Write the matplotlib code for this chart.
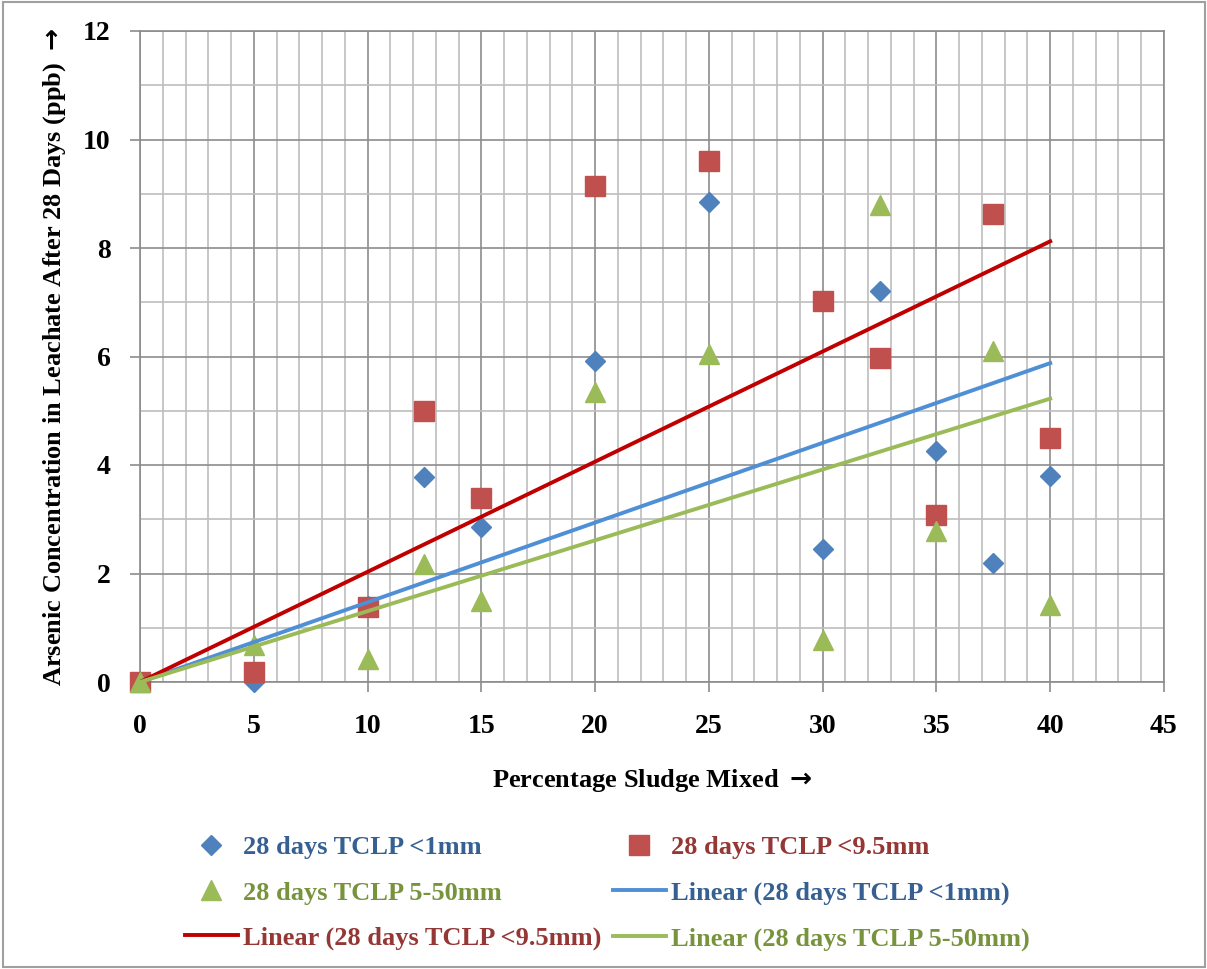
import numpy as np
import matplotlib.pyplot as plt
from matplotlib.ticker import MultipleLocator
from matplotlib.patches import Rectangle

# Datos
pct_lodo = [0, 5, 10, 12.5, 15, 20, 25, 30, 32.5, 35, 37.5, 40]
tclp_1mm = [0, 0, 1.4, 3.77, 2.85, 5.92, 8.85, 2.45, 7.2, 4.25, 2.2, 3.8]
tclp_95mm = [0, 0.18, 1.38, 5.0, 3.4, 9.15, 9.6, 7.03, 5.97, 3.08, 8.63, 4.5]
tclp_550mm = [0, 0.68, 0.43, 2.18, 1.5, 5.35, 6.05, 0.78, 8.8, 2.78, 6.1, 1.42]

labels = ['28 days TCLP <1mm', '28 days TCLP <9.5mm', '28 days TCLP 5-50mm']

plt.rcParams['font.family'] = ['Liberation Serif', 'DejaVu Sans']
plt.rcParams['font.weight'] = 'bold'
plt.rcParams['mathtext.fontset'] = 'dejavusans'

fig = plt.figure(figsize=(12.07, 9.69), dpi=100)
ax = fig.add_axes([140 / 1207, 1 - 682 / 969, 1024 / 1207, 651 / 969])

x = np.array(pct_lodo)

# Puntos (sin recorte en los bordes, como en Excel)
h_b, = ax.plot(x, tclp_1mm, 'D', color='#4F81BD', markersize=10.5, linestyle='none',
               label=labels[0], zorder=3, clip_on=False)
h_r, = ax.plot(x, tclp_95mm, 's', color='#C0504D', markersize=15, linestyle='none',
               label=labels[1], zorder=3, clip_on=False)
h_g, = ax.plot(x, tclp_550mm, '^', color='#9BBB59', markersize=15, linestyle='none',
               label=labels[2], zorder=3, clip_on=False)

# Tendencias lineales (intercepto en cero, como en Excel)
def pendiente(y):
    y = np.array(y)
    return np.sum(x * y) / np.sum(x * x)

xl = np.array([0, 40])
l_b, = ax.plot(xl, pendiente(tclp_1mm) * xl, color='#4F8FD6', lw=2.8, zorder=4,
               label='Linear (28 days TCLP <1mm)')
l_r, = ax.plot(xl, pendiente(tclp_95mm) * xl, color='#C00000', lw=2.8, zorder=4,
               label='Linear (28 days TCLP <9.5mm)')
l_g, = ax.plot(xl, pendiente(tclp_550mm) * xl, color='#9BBB59', lw=2.8, zorder=4,
               label='Linear (28 days TCLP 5-50mm)')

ax.set_xlim(0, 45)
ax.set_ylim(0, 12)
ax.xaxis.set_major_locator(MultipleLocator(5))
ax.xaxis.set_minor_locator(MultipleLocator(1))
ax.yaxis.set_major_locator(MultipleLocator(2))
ax.yaxis.set_minor_locator(MultipleLocator(1))
ax.grid(True, which='major', color='#8C8C8C', lw=1.2, zorder=0)
ax.grid(True, which='minor', color='#BEBEBE', lw=1.2, zorder=0)
ax.set_axisbelow(True)
for s in ax.spines.values():
    s.set_color('#8C8C8C')
    s.set_linewidth(1.2)
ax.tick_params(which='major', direction='out', length=7, color='#8C8C8C', width=1.2,
               labelsize=20)
ax.tick_params(axis='y', which='major', pad=14)
ax.tick_params(axis='x', which='major', pad=16)
ax.tick_params(which='minor', length=0)
for t in ax.get_xticklabels() + ax.get_yticklabels():
    t.set_fontweight('bold')

ax.set_xlabel(r'Percentage Sludge Mixed $\mathbf{\rightarrow}$', fontsize=19,
              fontweight='bold', labelpad=20)
ax.set_ylabel(r'Arsenic Concentration in Leachate After 28 Days (ppb) $\mathbf{\rightarrow}$',
              fontsize=19, fontweight='bold', labelpad=11)

handles = [h_b, h_g, l_r, h_r, l_b, l_g]
leg = fig.legend(handles=handles, labels=[h.get_label() for h in handles], ncol=2,
                 loc='upper left', bbox_to_anchor=(185 / 1207, 1 - 836 / 969),
                 frameon=False, fontsize=19, numpoints=1, handlelength=2.0,
                 handletextpad=0.19, columnspacing=0.45, labelspacing=0.82,
                 borderpad=0, borderaxespad=0)
text_colors = ['#376092', '#77933C', '#953735', '#953735', '#376092', '#77933C']
for t, c in zip(leg.get_texts(), text_colors):
    t.set_color(c)
    t.set_fontweight('bold')

# Borde exterior del gráfico
fig.patches.append(Rectangle((3 / 1207, 2 / 969), 1202 / 1207, 965 / 969, transform=fig.transFigure,
                             fill=False, edgecolor='#A0A0A0', lw=1.5))

fig.savefig('out.png', dpi=100)
